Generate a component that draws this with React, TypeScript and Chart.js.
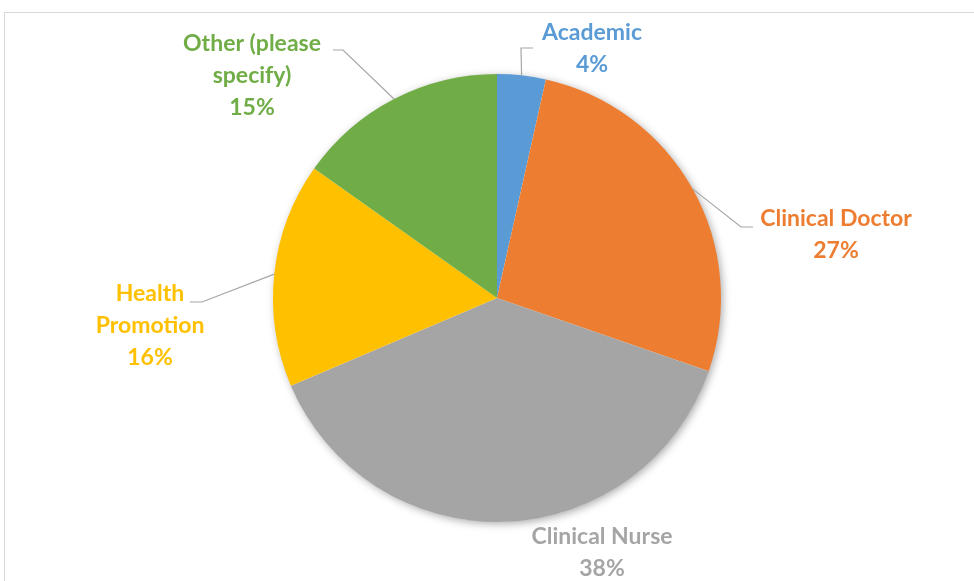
import React, { useEffect, useRef } from "react";
import { Chart, registerables } from "chart.js";

Chart.register(...registerables);

const categories = ["Academic", "Clinical Doctor", "Clinical Nurse", "Health Promotion", "Other (please specify)"];
const values = [3.5, 26.8, 38.3, 16.2, 15.2];
const colors = ["#5B9BD5", "#ED7D31", "#A5A5A5", "#FFC000", "#70AD47"];
// how each category name is wrapped in its label
const labelLines = [["Academic"], ["Clinical Doctor"], ["Clinical Nurse"], ["Health", "Promotion"], ["Other (please", "specify)"]];
// label centre offsets from pie centre (layout)
const labelOffsets = [[95, -265], [339, -79], [105, 239], [-347, -4], [-245, -254]];
// leader line: elbow offset from centre, and end x offset (null = no leader)
const leaders: (number[] | null)[] = [[24, -250, 36], [244, -71, 256], null, [-295, 4, -307], [-154, -248, -164]];

const FONT = "bold 23px Lato, 'Liberation Sans', sans-serif";
const LINE_H = 32;

const labelPlugin = {
  id: "outerLabels",
  beforeDraw(chart: any) {
    const ctx = chart.ctx;
    ctx.save();
    ctx.strokeStyle = "#D9D9D9";
    ctx.lineWidth = 1;
    ctx.strokeRect(4.5, 12.5, 1200, 1000);
    ctx.restore();
  },
  beforeDatasetsDraw(chart: any) {
    const meta = chart.getDatasetMeta(0);
    const arc = meta.data[0];
    if (!arc) return;
    const ctx = chart.ctx;
    ctx.save();
    ctx.shadowColor = "rgba(0,0,0,0.35)";
    ctx.shadowBlur = 9;
    ctx.shadowOffsetX = 2;
    ctx.shadowOffsetY = 2;
    ctx.fillStyle = "#ffffff";
    ctx.beginPath();
    ctx.arc(arc.x, arc.y, arc.outerRadius - 0.5, 0, Math.PI * 2);
    ctx.fill();
    ctx.restore();
  },
  afterDatasetsDraw(chart: any) {
    const meta = chart.getDatasetMeta(0);
    const ctx = chart.ctx;
    const total = values.reduce((a, b) => a + b, 0);
    ctx.save();
    meta.data.forEach((arc: any, i: number) => {
      const cx = arc.x, cy = arc.y, r = arc.outerRadius;
      const mid = (arc.startAngle + arc.endAngle) / 2;
      const px = cx + Math.cos(mid) * r;
      const py = cy + Math.sin(mid) * r;
      const ld = leaders[i];
      if (ld) {
        ctx.strokeStyle = "#A6A6A6";
        ctx.lineWidth = 1.2;
        ctx.beginPath();
        ctx.moveTo(px, py);
        ctx.lineTo(cx + ld[0], cy + ld[1]);
        ctx.lineTo(cx + ld[2], cy + ld[1]);
        ctx.stroke();
      }
      const pct = Math.round((values[i] / total) * 100) + "%";
      const lines = [...labelLines[i], pct];
      ctx.fillStyle = colors[i];
      ctx.font = FONT;
      ctx.textAlign = "center";
      ctx.textBaseline = "middle";
      const lx = cx + labelOffsets[i][0];
      const ly = cy + labelOffsets[i][1];
      lines.forEach((t, k) => ctx.fillText(t, lx, ly + k * LINE_H));
    });
    ctx.restore();
  },
};

export default function App() {
  const ref = useRef<HTMLCanvasElement>(null);
  useEffect(() => {
    if (!ref.current) return;
    const chart = new Chart(ref.current, {
      type: "pie",
      data: {
        labels: categories,
        datasets: [{ data: values, backgroundColor: colors, borderWidth: 0 }],
      },
      options: {
        animation: false,
        responsive: false,
        layout: { padding: { top: 74, bottom: 59, left: 197, right: 177 } },
        plugins: { legend: { display: false }, tooltip: { enabled: false } },
      },
      plugins: [labelPlugin],
    });
    return () => chart.destroy();
  }, []);
  return (
    <div style={{ position: "absolute", left: 0, top: 0, width: 974, height: 581, overflow: "hidden", background: "#fff" }}>
      <canvas ref={ref} width={974} height={581} style={{ display: "block" }} />
    </div>
  );
}
